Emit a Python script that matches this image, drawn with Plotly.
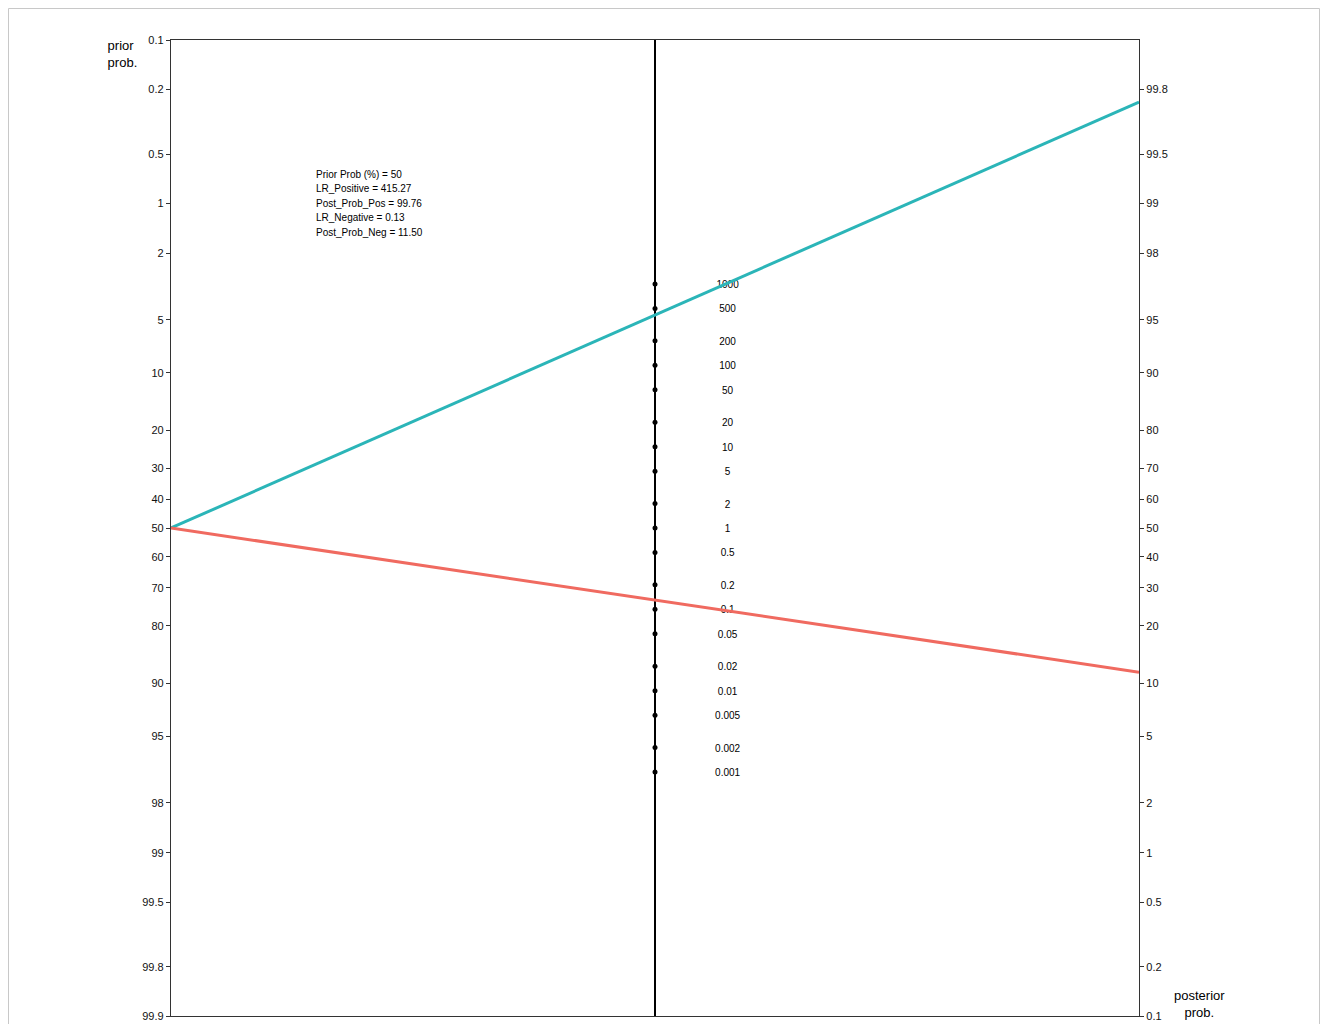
import numpy as np
import plotly.graph_objects as go

prior_ticks = [0.1, 0.2, 0.5, 1, 2, 5, 10, 20, 30, 40, 50, 60, 70, 80, 90, 95, 98, 99, 99.5, 99.8, 99.9]
post_ticks = [99.8, 99.5, 99, 98, 95, 90, 80, 70, 60, 50, 40, 30, 20, 10, 5, 2, 1, 0.5, 0.2, 0.1]
lr_ticks = [1000, 500, 200, 100, 50, 20, 10, 5, 2, 1, 0.5, 0.2, 0.1, 0.05, 0.02, 0.01, 0.005, 0.002, 0.001]
lr_labels = ["1000", "500", "200", "100", "50", "20", "10", "5", "2", "1", "0.5", "0.2", "0.1",
             "0.05", "0.02", "0.01", "0.005", "0.002", "0.001"]

prior_prob = 50
lr_positive = 415.27
lr_negative = 0.13


def logit(p):
    p = np.asarray(p, dtype=float)
    return np.log(p / (1 - p))


def post_prob(prior_pct, lr):
    odds = prior_pct / (100 - prior_pct) * lr
    return 100 * odds / (1 + odds)


post_pos = post_prob(prior_prob, lr_positive)
post_neg = post_prob(prior_prob, lr_negative)

info_lines = [
    f"Prior Prob (%) = {prior_prob}",
    f"LR_Positive = {lr_positive:.2f}",
    f"Post_Prob_Pos = {post_pos:.2f}",
    f"LR_Negative = {lr_negative:.2f}",
    f"Post_Prob_Neg = {post_neg:.2f}",
]

ylim = abs(float(logit(0.001)))
yrange = [-ylim, ylim]

W, H = 1312, 1016
ML, MR, MT, MB = 163, 181, 32, 8
PW = W - ML - MR
PH = H - MT - MB
PX_PER_UNIT = PH / (2 * ylim)

FONT = "Liberation Sans, Arial"

fig = go.Figure()

# middle LR axis
fig.add_trace(go.Scatter(x=[0.5, 0.5], y=yrange, mode="lines",
                         line=dict(color="black", width=2), hoverinfo="skip", showlegend=False))
lr_y = np.log(np.array(lr_ticks, dtype=float)) / 2
fig.add_trace(go.Scatter(x=[0.5] * len(lr_ticks), y=lr_y, mode="markers",
                         marker=dict(color="black", size=5), showlegend=False))
label_nudge = 1.5 / PX_PER_UNIT  # small downward nudge of text labels
fig.add_trace(go.Scatter(x=[0.575] * len(lr_ticks), y=lr_y - label_nudge, mode="text", text=lr_labels,
                         textfont=dict(size=10, color="black", family=FONT),
                         textposition="middle center", hoverinfo="skip", showlegend=False))

# positive / negative lines
fig.add_trace(go.Scatter(x=[0, 1], y=[-float(logit(prior_prob / 100)), float(logit(post_pos / 100))],
                         mode="lines", line=dict(color="#2BB5B8", width=3), showlegend=False))
fig.add_trace(go.Scatter(x=[0, 1], y=[-float(logit(prior_prob / 100)), float(logit(post_neg / 100))],
                         mode="lines", line=dict(color="#F06A60", width=3), showlegend=False))

# dummy trace on right axis
fig.add_trace(go.Scatter(x=[0.5], y=[0], yaxis="y2", mode="markers",
                         marker=dict(opacity=0), hoverinfo="skip", showlegend=False))

tickfont = dict(size=11, color="#111", family=FONT)

# light page border (left, top, right)
bx0 = (0.5 - ML) / PW
bx1 = (W - 0.5 - ML) / PW
by1 = 1 + (MT - 0.5) / PH
by0 = -MB / PH - 0.01

annotations = []
top_px = 174 - 40  # first info line centre, measured from plot top
for i, line in enumerate(info_lines):
    yc = top_px + i * 14.6
    annotations.append(dict(text=line, xref="paper", yref="paper", x=0.1478, y=1 - yc / PH,
                            xanchor="left", yanchor="middle", align="left", showarrow=False,
                            font=dict(size=10, color="black", family=FONT)))
annotations += [
    dict(text="prior<br> prob.", xref="paper", yref="paper", x=-0.052, y=0.986,
         xanchor="center", yanchor="middle", align="center", showarrow=False,
         font=dict(size=13, color="black", family=FONT)),
    dict(text="posterior<br>prob.", xref="paper", yref="paper", x=1.062, y=0.012,
         xanchor="center", yanchor="middle", align="center", showarrow=False,
         font=dict(size=13, color="black", family=FONT)),
]

fig.update_layout(
    template="none",
    width=W, height=H,
    margin=dict(l=ML, r=MR, t=MT, b=MB, autoexpand=False),
    paper_bgcolor="white", plot_bgcolor="white",
    showlegend=False,
    xaxis=dict(range=[0, 1], showgrid=False, zeroline=False, showticklabels=False, automargin=False,
               showline=True, linecolor="#333", linewidth=1.3, mirror=True, ticks=""),
    yaxis=dict(range=yrange, tickvals=[float(v) for v in -logit(np.array(prior_ticks) / 100)],
               ticktext=[str(t) for t in prior_ticks], showgrid=False, zeroline=False,
               automargin=False,
               showline=True, linecolor="#333", linewidth=1.3, ticks="outside", ticklen=4,
               tickcolor="#333", tickfont=tickfont),
    yaxis2=dict(range=yrange, overlaying="y", side="right",
                tickvals=[float(v) for v in logit(np.array(post_ticks) / 100)],
                ticktext=[str(t) for t in post_ticks], showgrid=False, zeroline=False,
                automargin=False,
                showline=True, linecolor="#333", linewidth=1.3, ticks="outside", ticklen=4,
                tickcolor="#333", tickfont=tickfont),
    shapes=[dict(type="path", xref="paper", yref="paper",
                 path=f"M {bx0},{by0} L {bx0},{by1} L {bx1},{by1} L {bx1},{by0}",
                 line=dict(color="#c8c8c8", width=1))],
    annotations=annotations,
)

fig.write_html("out.html")
